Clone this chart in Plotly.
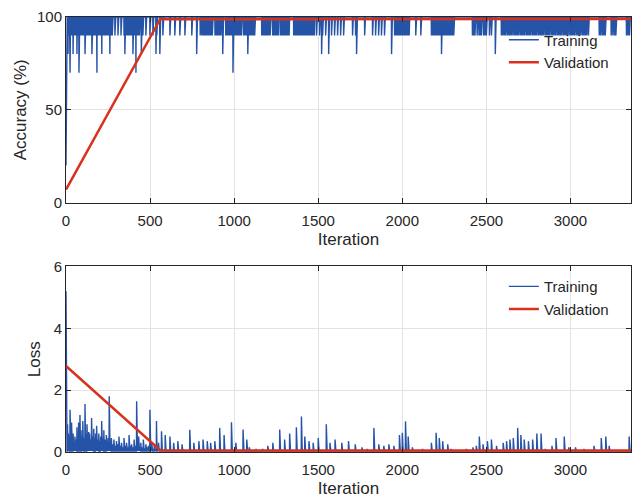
import numpy as np
import plotly.graph_objects as go
from plotly.subplots import make_subplots

# ---- data -------------------------------------------------------------
n_iter = 3360

# mini-batch accuracy (%): first iterations, then the batches that fell below 100
acc_start_iter = [0, 1, 2]
acc_start_val = [20, 50, 80]
acc_dip90_iter = [
    3, 9, 17, 22, 30, 37, 44, 50, 58, 65, 71, 79, 86, 92, 99, 107, 113, 120, 128, 134,
    141, 149, 155, 162, 170, 176, 183, 191, 197, 204, 212, 218, 225, 233, 239, 246, 254,
    260, 267, 275, 291, 309, 327, 345, 352, 360, 366, 373, 381, 388, 394, 402, 409, 415,
    423, 430, 437, 457, 475, 499, 517, 540, 558, 576, 618, 647, 677, 707, 748, 808,
    798, 805, 812, 820, 827, 834, 842, 849, 856, 864, 870, 886, 893, 901, 908, 915, 922,
    950, 957, 964, 971, 979, 986, 1000, 1008, 1015, 1022, 1030, 1037, 1044,
    1057, 1064, 1072, 1088, 1095, 1102, 1109, 1116, 1122,
    1164, 1171, 1178, 1186, 1193, 1200, 1207, 1214, 1229, 1236, 1244, 1251, 1258, 1265,
    1277, 1284, 1291, 1298, 1306, 1313, 1320, 1327,
    1354, 1361, 1368, 1376, 1383, 1390, 1397, 1404, 1412, 1419, 1426, 1433, 1441, 1448,
    1455, 1462, 1470, 1477, 1490, 1508, 1526, 1544, 1579, 1597, 1615, 1633, 1651,
    1704, 1722, 1776, 1823, 1841, 1859, 1876, 1894,
    1954, 1961, 1968, 1976, 1983, 1990, 1997, 2005, 2012, 2019, 2026, 2034, 2041,
    2080, 2110, 2173, 2180, 2187, 2195, 2202, 2209, 2216, 2224, 2240, 2247, 2254, 2262,
    2269, 2276, 2284, 2291, 2298, 2306,
    2417, 2424, 2432, 2445, 2456, 2463, 2471, 2484, 2492, 2500, 2518, 2530,
    2589, 2598, 2607, 2616, 2626, 2635, 2644, 2653, 2663, 2672, 2681, 2690, 2700, 2709,
    2718, 2727, 2737, 2746, 2755, 2764, 2774, 2783, 2792, 2801, 2811, 2820, 2829, 2838,
    2848, 2857, 2866, 2875, 2885, 2894, 2903, 2912, 2922, 2931, 2940, 2949, 2959, 2968,
    2977, 2986, 2996, 3005, 3014, 3023, 3033, 3042, 3051, 3060, 3070, 3079, 3088, 3097,
    3107, 3171, 3180, 3190, 3198, 3207, 3242, 3252, 3262, 3270, 3333, 3342, 3351,
]
acc_dip80_iter = [12, 42, 65, 113, 154, 213, 261, 350, 398, 448, 535, 558, 777, 932,
                  1081, 1520, 1562, 1728, 1936, 2233, 2553]
acc_dip70_iter = [24, 77, 184, 416, 993]

# mini-batch loss: first iterations, then the individual batch losses
loss_start_iter = [0, 1, 2, 3]
loss_start_val = [5.2, 2.95, 2.1, 0.4]
loss_floor = 0.03
loss_iter = [
    5, 9, 14, 18, 24, 28, 33, 37, 42, 47, 53, 58, 65, 70, 75, 79, 83, 88, 95, 100,
    105, 113, 118, 125, 130, 135, 140, 146, 152, 158, 165, 170, 176, 182, 188, 195,
    200, 206, 212, 218, 225, 232, 240, 246, 251, 257, 263, 270, 277, 285, 292, 300,
    307, 315, 322, 330, 337, 345, 352, 360, 367, 375, 382, 390, 397, 405, 412, 420,
    426, 432, 438, 445, 452, 460, 467, 475, 483, 490, 499, 505, 510, 517, 525, 531,
    538, 544, 550, 557,
    568, 590, 618, 640, 665, 690, 736, 760, 790, 815, 840, 860, 885, 914, 940, 984,
    1010, 1053, 1075, 1090, 1130, 1170, 1200, 1230, 1271, 1300, 1330, 1370, 1400, 1420,
    1445, 1470, 1500, 1548, 1570, 1600, 1640, 1680, 1720, 1760, 1790, 1831, 1860, 1890,
    1920, 1950, 1983, 2000, 2019, 2035, 2060, 2120, 2173, 2201, 2220, 2240, 2270, 2290,
    2340, 2380, 2420, 2440, 2458, 2480, 2506, 2530, 2560, 2600, 2620, 2640, 2660, 2686,
    2705, 2725, 2750, 2775, 2800, 2825, 2850, 2890, 2914, 2963, 2990, 3030, 3080, 3140,
    3183, 3210, 3230, 3280, 3349,
]
loss_val = [
    0.3, 0.9, 0.6, 0.45, 1.37, 0.5, 0.95, 0.35, 0.6, 0.3, 0.5, 0.4, 0.8, 0.5, 0.95, 0.55,
    1.2, 0.5, 0.7, 1.0, 0.45, 1.55, 0.6, 0.9, 0.5, 0.65, 0.6, 0.4, 1.1, 0.5, 0.75, 0.45,
    0.6, 0.85, 0.4, 0.6, 0.35, 0.5, 1.0, 0.45, 0.7, 0.4, 0.55, 0.3, 0.45, 1.8, 0.3, 0.45,
    0.25, 0.4, 0.2, 0.35, 0.25, 0.5, 0.2, 0.3, 0.15, 0.45, 0.2, 0.3, 0.15, 0.55, 0.2, 0.25,
    0.15, 0.4, 0.2, 1.64, 0.2, 0.5, 0.15, 0.3, 0.15, 0.4, 0.12, 0.25, 0.15, 0.2, 1.37,
    0.15, 0.3, 0.1, 0.2, 0.1, 1.0, 0.12, 0.3, 0.1,
    0.67, 0.55, 0.5, 0.3, 0.35, 0.25, 0.72, 0.3, 0.35, 0.4, 0.35, 0.3, 0.35, 0.78, 0.55,
    0.96, 0.3, 0.73, 0.4, 0.15, 0.1, 0.1, 0.2, 0.3, 0.73, 0.4, 0.6, 0.8, 1.15, 0.5,
    0.35, 0.3, 0.45, 0.9, 0.3, 0.4, 0.3, 0.35, 0.25, 0.15, 0.1, 0.78, 0.25, 0.2,
    0.25, 0.2, 0.55, 0.62, 0.99, 0.5, 0.15, 0.1, 0.3, 0.62, 0.45, 0.35, 0.25, 0.1,
    0.05, 0.1, 0.15, 0.2, 0.5, 0.25, 0.35, 0.4, 0.2, 0.3, 0.35, 0.4, 0.45, 0.78,
    0.55, 0.4, 0.35, 0.4, 0.6, 0.6, 0.1, 0.2, 0.45, 0.5, 0.15, 0.15, 0.1, 0.2,
    0.45, 0.5, 0.2, 0.05, 0.5,
]

# validation, evaluated once per epoch
val_iter = [0, 560, 1120, 1680, 2240, 2800, 3360]
val_acc = [7.0, 98.8, 98.8, 98.9, 98.9, 98.9, 98.9]
val_loss = [2.78, 0.06, 0.05, 0.05, 0.05, 0.05, 0.05]

x_ticks = [0, 500, 1000, 1500, 2000, 2500, 3000]
acc_ticks = [0, 50, 100]
loss_ticks = [0, 2, 4, 6]

# ---- series assembly --------------------------------------------------
iterations = np.arange(n_iter + 1)

train_acc = np.full(n_iter + 1, 100.0)
train_acc[acc_dip90_iter] = 90
train_acc[acc_dip80_iter] = 80
train_acc[acc_dip70_iter] = 70
train_acc[acc_start_iter] = acc_start_val

train_loss = np.full(n_iter + 1, loss_floor)
train_loss[loss_iter] = loss_val
train_loss[loss_start_iter] = loss_start_val

# ---- figure -----------------------------------------------------------
blue = "#2553a8"
red = "#d8321e"
ink = "#262626"
font = "Liberation Sans, Arial, sans-serif"

fig = make_subplots(rows=2, cols=1, vertical_spacing=0.147)

fig.add_trace(go.Scatter(x=iterations, y=train_acc, mode="lines", name="Training",
                         line=dict(color=blue, width=1.4), legend="legend"), row=1, col=1)
fig.add_trace(go.Scatter(x=val_iter, y=val_acc, mode="lines", name="Validation",
                         line=dict(color=red, width=2.5), legend="legend"), row=1, col=1)
fig.add_trace(go.Scatter(x=iterations, y=train_loss, mode="lines", name="Training",
                         line=dict(color=blue, width=1.4), legend="legend2"), row=2, col=1)
fig.add_trace(go.Scatter(x=val_iter, y=val_loss, mode="lines", name="Validation",
                         line=dict(color=red, width=2.5), legend="legend2"), row=2, col=1)

axis_common = dict(
    showgrid=True, gridcolor="#e3e3e3", gridwidth=1,
    showline=True, linecolor=ink, linewidth=1, mirror="ticks",
    ticks="inside", ticklen=5, tickcolor=ink,
    zeroline=False, tickfont=dict(family=font, size=15, color=ink),
    title_font=dict(family=font, size=17, color=ink),
)

for r in (1, 2):
    fig.update_xaxes(range=[0, n_iter], tickvals=x_ticks, title_text="Iteration",
                     ticklabelstandoff=4, title_standoff=5, row=r, col=1, **axis_common)

fig.update_yaxes(range=[0, 100], tickvals=acc_ticks, title_text="Accuracy (%)",
                 title_standoff=6, row=1, col=1, **axis_common)
fig.update_yaxes(range=[0, 6], tickvals=loss_ticks, title_text="Loss",
                 title_standoff=8, row=2, col=1, **axis_common)

legend_common = dict(
    xanchor="left", yanchor="top", bgcolor="rgba(0,0,0,0)", borderwidth=0,
    font=dict(family=font, size=15, color=ink), tracegroupgap=0,
)
fig.update_layout(
    width=632, height=500,
    margin=dict(l=66, r=1, t=17, b=48),
    paper_bgcolor="white", plot_bgcolor="white",
    showlegend=True,
    legend=dict(x=0.775, y=0.985, **legend_common),
    legend2=dict(x=0.775, y=0.418, **legend_common),
)

fig.write_html("out.html")
